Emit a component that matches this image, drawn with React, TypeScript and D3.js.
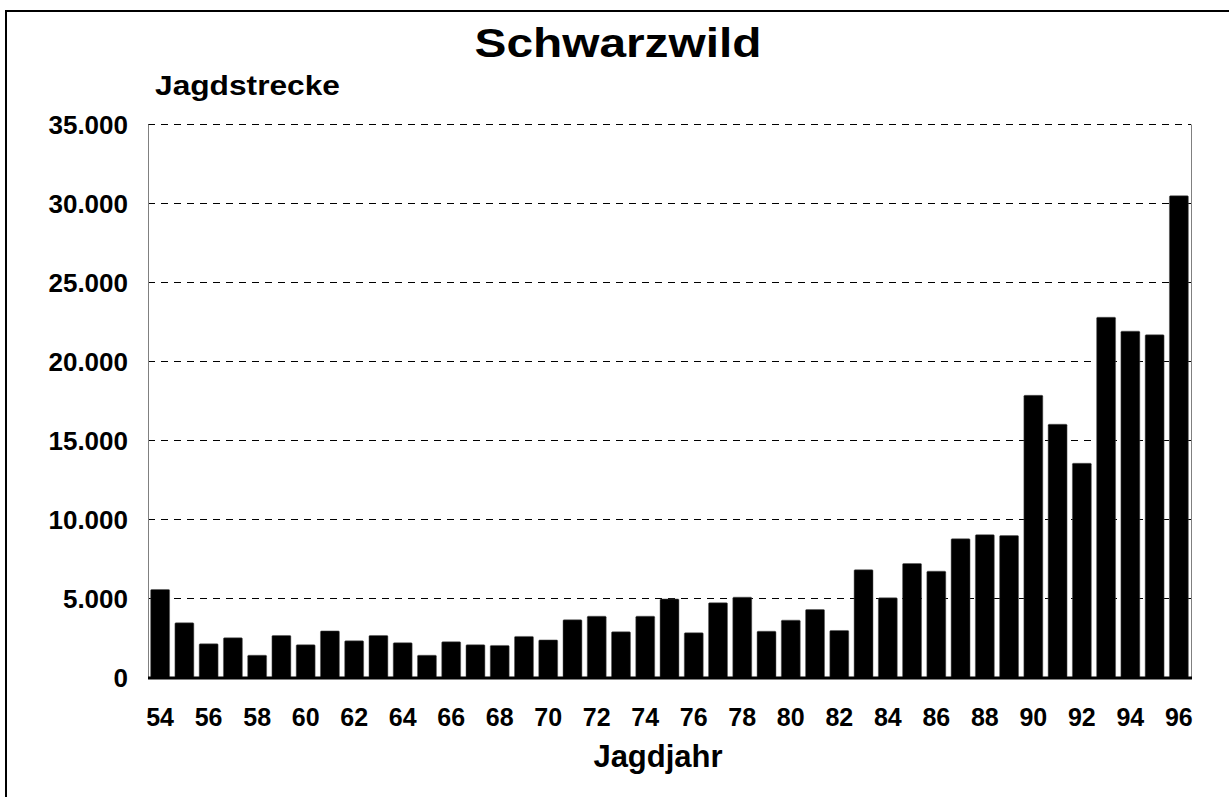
import * as d3 from 'd3';
import React from 'react';

// Jagdjahr (last two digits) and Jagdstrecke for Schwarzwild
const years = [
  '54', '55', '56', '57', '58', '59', '60', '61', '62', '63', '64',
  '65', '66', '67', '68', '69', '70', '71', '72', '73', '74', '75',
  '76', '77', '78', '79', '80', '81', '82', '83', '84', '85', '86',
  '87', '88', '89', '90', '91', '92', '93', '94', '95', '96',
];
const strecke = [
  5570, 3460, 2130, 2510, 1410, 2660, 2070, 2950, 2320, 2660, 2200,
  1410, 2260, 2070, 2030, 2600, 2380, 3650, 3880, 2890, 3880, 4970,
  2830, 4730, 5085, 2930, 3630, 4300, 2975, 6820, 5040, 7215, 6730,
  8780, 9040, 8980, 17860, 16030, 13560, 22800, 21920, 21690, 30490,
];
const yTicks = [0, 5000, 10000, 15000, 20000, 25000, 30000, 35000];
const yTickLabels = ['0', '5.000', '10.000', '15.000', '20.000', '25.000', '30.000', '35.000'];
const xLabelYears = years.filter((_, i) => i % 2 === 0);

const width = 1229;
const height = 797;
const marginLeft = 148;
const marginRight = 38;
const marginTop = 124.5;
const plotBottom = 677.5;
const font = '"Liberation Sans", Arial, sans-serif';

export default function App() {
  const x = d3.scaleBand<string>()
    .domain(years)
    .range([marginLeft, width - marginRight])
    .paddingInner(0.22)
    .paddingOuter(0.11);

  const y = d3.scaleLinear()
    .domain([0, 35000])
    .range([plotBottom, marginTop]);

  return (
    <svg
      width={width}
      height={height}
      viewBox={`0 0 ${width} ${height}`}
      style={{ position: 'absolute', left: 0, top: 0, background: '#fff' }}
      fontFamily={font}
      fontWeight="bold"
    >
      {/* outer frame */}
      <rect x={6} y={11} width={1260} height={820} fill="none" stroke="#000" strokeWidth={2} />

      {/* title */}
      <text x={618} y={57} textAnchor="middle" fontSize={40} textLength={287} lengthAdjust="spacingAndGlyphs">
        Schwarzwild
      </text>
      <text x={155} y={95} fontSize={28} textLength={185} lengthAdjust="spacingAndGlyphs">
        Jagdstrecke
      </text>

      {/* grid lines */}
      {yTicks.filter(t => t > 0).map(t => (
        <line
          key={t}
          x1={marginLeft}
          x2={width - marginRight}
          y1={y(t)}
          y2={y(t)}
          stroke="#000"
          strokeWidth={1}
          strokeDasharray="7,6"
        />
      ))}

      {/* plot area sides */}
      <line x1={marginLeft + 0.5} x2={marginLeft + 0.5} y1={marginTop} y2={plotBottom} stroke="#808080" />
      <line x1={width - marginRight + 0.5} x2={width - marginRight + 0.5} y1={marginTop} y2={plotBottom} stroke="#808080" />

      {/* bars */}
      {years.map((yr, i) => (
        <rect
          key={yr}
          x={x(yr)}
          y={y(strecke[i])}
          width={x.bandwidth()}
          height={y(0) - y(strecke[i])}
          fill="#000"
          stroke="#555"
          strokeWidth={0.5}
          rx={1}
        />
      ))}

      {/* baseline */}
      <line x1={marginLeft} x2={width - marginRight + 1} y1={y(0) + 0.5} y2={y(0) + 0.5} stroke="#000" strokeWidth={3} />

      {/* y tick labels */}
      {yTicks.map((t, i) => (
        <text key={t} x={128} y={y(t)} dy="0.36em" textAnchor="end" fontSize={26}>
          {yTickLabels[i]}
        </text>
      ))}

      {/* x tick labels */}
      {xLabelYears.map(yr => (
        <text key={yr} x={(x(yr) ?? 0) + x.bandwidth() / 2} y={726} textAnchor="middle" fontSize={25}>
          {yr}
        </text>
      ))}

      <text x={658} y={767} textAnchor="middle" fontSize={31}>
        Jagdjahr
      </text>
    </svg>
  );
}
